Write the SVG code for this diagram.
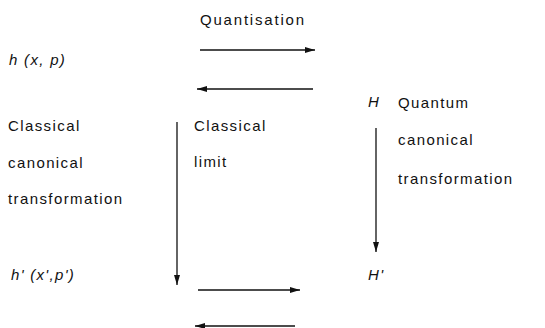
<svg xmlns="http://www.w3.org/2000/svg" width="545" height="328" viewBox="0 0 545 328">
<style>
.t{font-family:"Liberation Sans",Arial,sans-serif;font-size:15px;fill:#111;letter-spacing:1.4px}
.m{font-family:"Liberation Sans",Arial,sans-serif;font-size:15px;font-style:italic;fill:#111;letter-spacing:1.3px}
.c{stroke:#111;stroke-width:1.7;fill:none}
.v{stroke:#111;stroke-width:1.3;fill:none}
</style>
<defs>
<marker id="ah" viewBox="0 0 10 6" refX="10" refY="3" markerWidth="10" markerHeight="6" markerUnits="userSpaceOnUse" orient="auto">
<path d="M0,0 L10,3 L0,6 Z" fill="#111"/>
</marker>
</defs>
<rect width="545" height="328" fill="#fff"/>
<g id="quantisation-label"><text class="t" x="200" y="25" style="letter-spacing:1.8px">Quantisation</text></g>
<g id="h-classical"><text class="m" x="9" y="65">h (x, p)</text></g>
<g id="H-quantum"><text class="m" x="368" y="107">H</text></g>
<g id="quantum-ct-label">
<text class="t" x="398" y="108">Quantum</text>
<text class="t" x="398" y="145">canonical</text>
<text class="t" x="398" y="184">transformation</text>
</g>
<g id="classical-ct-label">
<text class="t" x="8" y="131">Classical</text>
<text class="t" x="8" y="168">canonical</text>
<text class="t" x="8" y="204">transformation</text>
</g>
<g id="classical-limit-label">
<text class="t" x="194" y="131">Classical</text>
<text class="t" x="194" y="167">limit</text>
</g>
<g id="h-prime"><text class="m" x="11" y="280">h' (x',p')</text></g>
<g id="H-prime"><text class="m" x="368" y="280">H'</text></g>
<g id="connectors">
<line class="c" x1="200" y1="50" x2="315" y2="50" marker-end="url(#ah)"/>
<line class="c" x1="313" y1="89" x2="197" y2="89" marker-end="url(#ah)"/>
<line class="v" x1="177" y1="122" x2="177" y2="285" marker-end="url(#ah)"/>
<line class="v" x1="376" y1="128" x2="376" y2="252" marker-end="url(#ah)"/>
<line class="c" x1="198" y1="290" x2="300" y2="290" marker-end="url(#ah)"/>
<line class="c" x1="295" y1="326" x2="195" y2="326" marker-end="url(#ah)"/>
</g>
</svg>
